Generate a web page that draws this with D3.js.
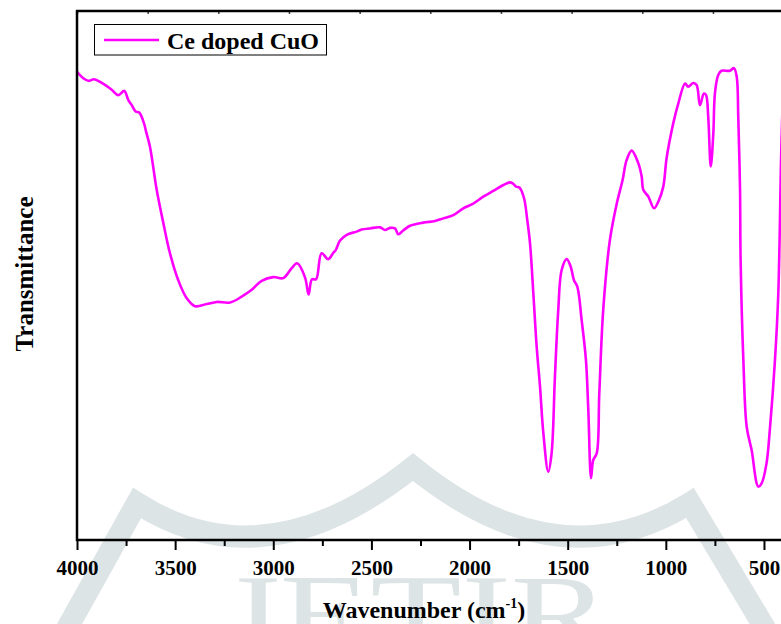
<!DOCTYPE html>
<html>
<head>
<meta charset="utf-8">
<script src="https://cdn.jsdelivr.net/npm/d3@7"></script>
<style>
  html, body { margin: 0; padding: 0; background: #fff; }
  svg { display: block; }
  text { font-family: "Liberation Serif", "Times New Roman", serif; font-weight: bold; fill: #000; }
</style>
</head>
<body>
<div id="chart"></div>
<script>
// FTIR spectrum of Ce doped CuO
const wavenumber = [
  4000, 3968, 3942, 3913, 3874, 3823, 3790, 3759, 3739, 3721, 3701, 3683, 3659, 3648, 3628,
  3594, 3560, 3527, 3484, 3441, 3399, 3339, 3288, 3220, 3161, 3110, 3059, 3000, 2949, 2906,
  2878, 2838, 2820, 2803, 2782, 2754, 2720, 2694, 2682, 2660, 2626, 2575, 2550, 2507, 2456,
  2431, 2405, 2380, 2363, 2338, 2303, 2236, 2176, 2134, 2083, 2032, 1981, 1930, 1879, 1828,
  1794, 1780, 1763, 1745, 1723, 1706, 1692, 1675, 1658, 1641, 1624, 1599, 1582, 1565, 1548,
  1531, 1505, 1485, 1468, 1451, 1429, 1407, 1395, 1381, 1370, 1352, 1339, 1319, 1285, 1250,
  1220, 1200, 1174, 1140, 1123, 1115, 1089, 1060, 1038, 1013, 996, 962, 936, 902, 886,
  860, 843, 826, 806, 795, 784, 771, 758, 750, 733, 716, 674, 653, 639, 631,
  622, 619, 605, 588, 563, 529, 512, 487, 469, 444, 427, 413, 406
];
const transmittance = [
  88.5, 87.3, 86.8, 87.1, 86.4, 85.1, 84.1, 84.9, 83.2, 82.2, 81.0, 80.8, 78.8, 77.2, 74.3,
  66.2, 59.9, 54.3, 49.1, 45.7, 44.2, 44.6, 45.0, 44.9, 46.0, 47.3, 49.0, 49.7, 49.5, 51.4,
  52.3, 49.6, 46.4, 49.3, 49.3, 54.2, 53.1, 54.3, 54.8, 56.6, 57.7, 58.3, 58.7, 58.9, 59.1,
  58.6, 59.0, 58.9, 57.8, 58.5, 59.4, 60.0, 60.3, 60.8, 61.4, 62.7, 63.6, 64.9, 66.0, 67.1,
  67.6, 67.4, 66.8, 66.6, 64.7, 60.5, 56.1, 46.6, 36.5, 29.0, 20.2, 12.9, 16.4, 30.9, 43.5,
  51.0, 53.1, 51.7, 49.1, 47.9, 41.6, 34.0, 24.6, 11.7, 15.1, 16.4, 27.7, 43.5, 56.7, 63.6,
  68.1, 71.8, 73.6, 71.2, 68.7, 66.2, 64.9, 62.7, 64.0, 66.8, 72.2, 78.8, 82.6, 86.3, 85.7,
  86.4, 86.0, 82.2, 84.4, 84.1, 80.0, 70.6, 76.9, 84.4, 87.9, 88.7, 88.7, 89.2, 87.6, 80.0,
  66.2, 52.9, 34.0, 21.4, 17.0, 10.1, 10.7, 14.5, 21.4, 34.0, 46.6, 71.8, 81.3
];
const xTicks = [4000, 3500, 3000, 2500, 2000, 1500, 1000, 500];
const xMinorTicks = [3750, 3250, 2750, 2250, 1750, 1250, 750];
const seriesName = 'Ce doped CuO';

const width = 781, height = 624;
const margin = { top: 11, left: 77, bottom: 84 };
const plotRight = 783.6;

const svg = d3.select('#chart')
  .append('svg')
  .attr('width', width)
  .attr('height', height);

const x = d3.scaleLinear().domain([4000, 400]).range([margin.left, plotRight]);
const y = d3.scaleLinear().domain([0, 100]).range([height - margin.bottom, margin.top]);
const topScale = d3.scaleLinear().domain([0, 10]).range([margin.left, plotRight]);

// faint journal watermark behind the chart
const wm = svg.append('g').attr('class', 'watermark');
wm.append('path')
  .attr('d', 'M55,650 L137,503 Q265,585 413,467 Q558,585 690,503 L778,650')
  .attr('fill', 'none')
  .attr('stroke', '#dde4e6')
  .attr('stroke-width', 22)
  .attr('stroke-linejoin', 'miter');
wm.append('text')
  .attr('x', 222)
  .attr('y', 652)
  .attr('textLength', 388)
  .attr('lengthAdjust', 'spacingAndGlyphs')
  .style('font-size', '112px')
  .style('font-weight', 'normal')
  .style('fill', '#dde4e6')
  .text('JETIR');

// spectrum
const lineFn = d3.line()
  .x((d, i) => x(wavenumber[i]))
  .y((d, i) => y(transmittance[i]))
  .curve(d3.curveCatmullRom.alpha(0.5));

svg.append('defs').append('clipPath')
  .attr('id', 'plot-clip')
  .append('rect')
  .attr('x', margin.left)
  .attr('y', margin.top)
  .attr('width', plotRight - margin.left)
  .attr('height', y(0) - margin.top);

svg.append('path')
  .datum(wavenumber)
  .attr('clip-path', 'url(#plot-clip)')
  .attr('d', lineFn)
  .attr('fill', 'none')
  .attr('stroke', '#ff00ff')
  .attr('stroke-width', 2.6)
  .attr('stroke-linejoin', 'round');

// bottom axis, major ticks with labels and minor ticks between
const bottomAxis = svg.append('g').attr('transform', `translate(0,${y(0)})`);
bottomAxis.append('g')
  .call(d3.axisBottom(x).tickValues(xTicks).tickSize(10).tickPadding(6).tickFormat(d3.format('d')))
  .call(g => g.select('.domain').remove())
  .call(g => g.selectAll('line').attr('stroke', '#000').attr('stroke-width', 2))
  .call(g => g.selectAll('text').attr('y', 35).attr('dy', null).style('font-size', '21px')
    .style('font-family', '"Liberation Serif", "Times New Roman", serif').style('font-weight', 'bold'));
bottomAxis.append('g')
  .call(d3.axisBottom(x).tickValues(xMinorTicks).tickSize(6).tickFormat(''))
  .call(g => g.select('.domain').remove())
  .call(g => g.selectAll('line').attr('stroke', '#000').attr('stroke-width', 2));
bottomAxis.append('line')
  .attr('x1', margin.left - 1).attr('x2', width)
  .attr('stroke', '#000').attr('stroke-width', 2.5);

// top frame with small inward ticks
const topAxis = svg.append('g').attr('transform', `translate(0,${margin.top})`);
topAxis.append('g')
  .call(d3.axisTop(topScale).ticks(10).tickSize(-3).tickFormat(''))
  .call(g => g.select('.domain').remove())
  .call(g => g.selectAll('line').attr('stroke', '#444').attr('stroke-width', 1.5));
topAxis.append('line')
  .attr('x1', margin.left - 1).attr('x2', width)
  .attr('stroke', '#000').attr('stroke-width', 2.5);

// left frame, no ticks
svg.append('line')
  .attr('x1', margin.left).attr('x2', margin.left)
  .attr('y1', margin.top - 1).attr('y2', y(0) + 1)
  .attr('stroke', '#000').attr('stroke-width', 2.5);

// axis titles
const xTitle = svg.append('text')
  .attr('x', 424)
  .attr('y', 618)
  .attr('text-anchor', 'middle')
  .style('font-size', '24px');
xTitle.append('tspan').text('Wavenumber (cm');
xTitle.append('tspan').attr('dy', -10).style('font-size', '14px').text('-1');
xTitle.append('tspan').attr('dy', 10).text(')');

svg.append('text')
  .attr('transform', 'translate(33,274) rotate(-90)')
  .attr('text-anchor', 'middle')
  .style('font-size', '25px')
  .text('Transmittance');

// legend
const legend = svg.append('g').attr('class', 'legend');
legend.append('rect')
  .attr('x', 94.5).attr('y', 24.5)
  .attr('width', 232).attr('height', 30.5)
  .attr('fill', '#fff')
  .attr('stroke', '#000')
  .attr('stroke-width', 1);
legend.append('line')
  .attr('x1', 104).attr('x2', 159)
  .attr('y1', 40).attr('y2', 40)
  .attr('stroke', '#ff00ff')
  .attr('stroke-width', 2.6);
legend.append('text')
  .attr('x', 167)
  .attr('y', 49)
  .style('font-size', '24px')
  .text(seriesName);
</script>
</body>
</html>
